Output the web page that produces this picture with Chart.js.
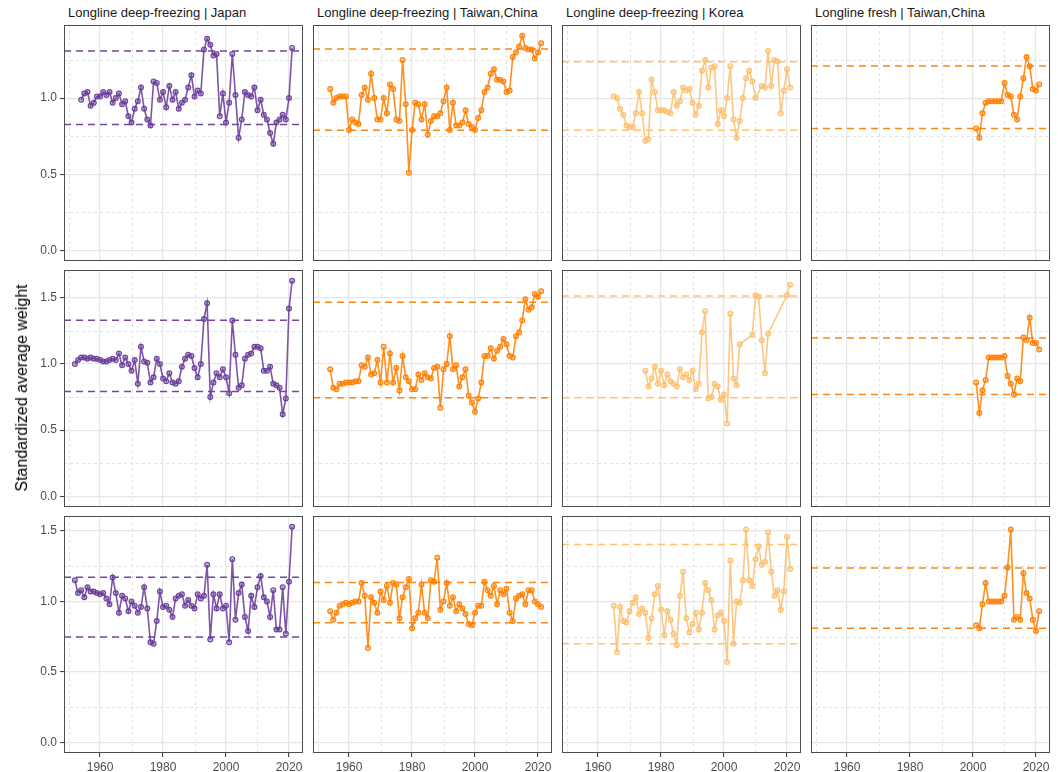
<!DOCTYPE html>
<html><head><meta charset="utf-8">
<script src="https://cdn.jsdelivr.net/npm/chart.js@4.4.1/dist/chart.umd.min.js"></script>
<style>
html,body{margin:0;padding:0;background:#fff;}
#wrap{position:relative;width:1058px;height:772px;overflow:hidden;font-family:'Liberation Sans',Arial,sans-serif;background:#fff;}
canvas{position:absolute;}
.strip{position:absolute;font-size:13px;color:#1a1a1a;white-space:nowrap;line-height:15px;}
#ytitle{position:absolute;font-size:16px;color:#000;white-space:nowrap;transform:translate(-50%,-50%) rotate(-90deg);}
</style></head><body><div id="wrap"></div>
<script>
// ---- categories / labels ----
const panelTitles = ["Longline deep-freezing | Japan","Longline deep-freezing | Taiwan,China","Longline deep-freezing | Korea","Longline fresh | Taiwan,China"];
const yAxisTitle = "Standardized average weight";
const xTicks = [1960,1980,2000,2020];
const xMinor = [1950,1970,1990,2010];
const yTicks = [0,0.5,1.0,1.5];
const yMinor = [0.25,0.75,1.25,1.75];
const xLimits = [1948.55,2024.45];
const yLimits = [[-0.0705,1.4805],[-0.0815,1.7115],[-0.0765,1.6065]];

// ---- first year of each series (rows 1..3) ----
const jpStart = [1954,1952,1952];
const twStart = [1954,1954,1954];
const krStart = [1965,1975,1965];
const frStart = [2001,2001,2001];

// ---- series values ----
const jpRow1 = [0.99,1.03,1.04,0.95,0.97,1.01,1.01,1.04,1.02,1.04,0.97,1.00,1.03,0.96,0.98,0.88,0.84,0.93,0.98,1.07,0.93,0.86,0.82,1.11,1.10,0.99,1.04,0.94,1.08,0.99,1.04,0.93,0.97,0.99,1.07,1.15,1.01,1.05,1.03,1.32,1.39,1.35,1.28,1.29,0.88,1.03,0.84,0.97,1.29,1.02,0.74,0.86,1.04,1.02,1.01,1.07,0.92,0.99,0.89,0.86,0.77,0.70,0.84,0.86,0.89,0.86,1.00,1.33];
const twRow1 = [1.06,0.97,1.00,1.01,1.01,1.01,0.79,0.86,0.84,0.83,1.02,1.07,0.99,1.16,1.00,0.86,0.86,1.00,0.90,1.09,1.06,0.86,0.85,1.25,0.96,0.51,0.79,0.97,0.96,0.86,0.96,0.76,0.85,0.88,0.88,0.90,0.98,1.07,0.79,0.97,0.82,0.82,0.84,0.92,0.83,0.81,0.79,0.87,0.92,1.04,1.07,1.16,1.19,1.12,1.12,1.11,1.04,1.05,1.27,1.30,1.34,1.41,1.33,1.32,1.32,1.26,1.30,1.36];
const krRow1 = [1.01,1.00,0.93,0.89,0.82,0.81,0.81,0.90,1.04,0.90,0.72,0.73,1.12,1.04,0.92,0.92,0.92,0.91,0.90,1.04,0.95,0.98,1.07,1.05,1.06,0.97,0.89,0.95,1.18,1.25,1.07,1.20,1.21,0.83,0.92,0.88,1.00,1.21,0.86,0.74,0.85,1.00,1.13,1.18,1.11,1.00,null,1.08,1.07,1.31,1.08,1.25,1.24,0.90,1.05,1.19,1.07];
const frRow1 = [0.80,0.74,0.90,0.97,0.98,0.98,0.98,0.98,0.98,1.10,1.02,1.01,0.89,0.86,1.01,1.13,1.27,1.21,1.06,1.05,1.09];

const jpRow2 = [1.00,1.03,1.05,1.05,1.04,1.05,1.04,1.04,1.03,1.02,1.02,1.03,1.04,1.03,1.08,0.99,1.05,1.00,0.95,1.03,0.85,1.13,1.02,1.01,0.86,0.90,1.04,1.00,0.89,0.87,0.93,0.86,0.85,0.87,0.98,1.04,1.07,1.06,0.97,0.90,1.00,1.34,1.46,0.75,0.86,0.93,0.90,0.96,0.90,0.78,1.33,1.07,0.82,0.84,1.04,1.07,1.08,1.13,1.13,1.12,0.95,0.95,0.98,0.85,0.84,0.82,0.62,0.74,1.42,1.63];
const twRow2 = [0.96,0.82,0.81,0.85,0.85,0.86,0.86,0.86,0.87,0.87,0.99,0.98,1.05,0.92,0.93,1.03,0.86,1.13,0.86,1.08,0.86,0.97,0.80,1.06,0.90,0.87,0.81,0.81,0.92,0.88,0.93,0.90,0.89,0.97,0.98,0.67,0.96,1.00,1.21,0.96,0.99,0.83,0.90,0.96,0.76,0.71,0.64,0.74,0.86,1.06,1.06,1.12,1.04,1.10,1.13,1.19,1.15,1.06,1.05,1.21,1.24,1.33,1.49,1.41,1.43,1.53,1.51,1.55];
const krRow2 = [0.95,0.83,0.89,0.98,0.85,0.95,0.84,0.92,0.87,0.85,0.83,0.96,0.90,0.92,0.88,0.95,0.81,0.85,1.24,1.40,0.74,0.75,0.85,0.83,0.73,0.77,0.55,1.38,0.89,0.84,1.15,null,null,null,1.22,1.52,1.51,1.18,0.93,1.23,null,null,null,null,null,1.52,1.60];
const frRow2 = [0.86,0.63,0.80,0.88,1.05,1.05,1.05,1.05,1.05,1.06,0.91,0.85,0.77,0.89,0.87,1.20,1.18,1.35,1.16,1.16,1.11];

const jpRow3 = [1.15,1.06,1.08,1.03,1.10,1.07,1.07,1.06,1.05,1.06,1.02,0.98,1.17,1.06,0.92,1.04,1.02,0.93,1.00,0.97,0.92,0.96,1.10,0.95,0.71,0.70,0.86,1.07,0.96,0.97,0.94,0.89,1.02,1.04,1.05,0.97,1.01,0.97,0.95,1.05,1.02,1.04,1.26,0.73,1.05,0.95,1.05,0.95,0.97,0.71,1.30,0.87,1.06,1.12,0.89,0.79,1.04,0.96,1.10,1.18,1.03,1.00,0.89,1.08,0.80,0.80,1.10,0.77,1.14,1.53];
const twRow3 = [0.93,0.87,0.92,0.97,0.98,0.99,0.98,0.99,1.00,1.00,1.13,1.04,0.67,1.03,0.99,0.92,1.07,1.01,1.11,0.99,1.13,1.12,0.88,1.03,1.10,1.16,0.81,0.88,0.92,1.12,0.92,0.88,1.15,1.14,1.31,0.94,1.00,1.13,0.97,1.03,0.93,0.98,0.95,0.91,0.84,0.83,0.92,0.97,0.97,1.14,1.08,1.04,1.11,0.98,1.08,1.05,1.09,0.92,0.86,1.02,1.04,1.05,0.98,1.08,1.08,1.00,0.98,0.96];
const krRow3 = [0.97,0.64,0.96,0.86,0.85,0.93,0.99,1.03,0.91,0.95,0.92,0.74,0.88,1.05,1.11,0.94,0.76,0.93,0.87,0.77,0.69,1.04,1.21,0.88,0.78,0.84,0.92,0.80,0.92,1.13,1.08,1.01,0.80,0.90,0.92,0.86,0.57,1.29,0.70,1.00,0.99,1.15,1.51,1.15,1.11,1.30,1.39,1.26,1.28,1.49,1.21,1.04,1.08,0.94,1.07,1.46,1.23];
const frRow3 = [0.83,0.81,0.98,1.13,1.00,1.00,1.00,1.00,1.00,1.04,1.24,1.51,0.87,0.89,0.87,1.20,1.06,1.02,0.87,0.79,0.93];

// ---- dashed reference levels [lower, upper] ----
const refRow1 = [[0.827,1.309],[0.789,1.322],[0.789,1.239],[0.800,1.211]];
const refRow2 = [[0.793,1.331],[0.745,1.467],[0.745,1.515],[0.770,1.197]];
const refRow3 = [[0.747,1.172],[0.849,1.134],[0.700,1.405],[0.809,1.238]];

const fleetColors = ["106,61,154","255,127,0","253,191,111","255,127,0"];

// ---- assembly ----
const rows = [
  [jpRow1,twRow1,krRow1,frRow1],
  [jpRow2,twRow2,krRow2,frRow2],
  [jpRow3,twRow3,krRow3,frRow3]
];
const starts = [jpStart,twStart,krStart,frStart];
const refs = [refRow1,refRow2,refRow3];

// layout
const colLeft = [64,313,562,811];
const panelW = 239;
const rowTop = [25,270,516];
const rowH = [236,237,237];
const yAxisW = 60, xAxisH = 24;

Chart.defaults.font.family = "'Liberation Sans', Arial, sans-serif";

const panelDeco = {
  id:'panelDeco',
  beforeDatasetsDraw(chart){
    const {ctx, chartArea:a, scales:{x,y}} = chart;
    ctx.save();
    ctx.beginPath(); ctx.rect(a.left,a.top,a.right-a.left,a.bottom-a.top); ctx.clip();
    ctx.strokeStyle='#e3e3e3'; ctx.lineWidth=1; ctx.setLineDash([3,3]);
    xMinor.forEach(v=>{
      const px=Math.round(x.getPixelForValue(v))+0.5;
      ctx.beginPath(); ctx.moveTo(px,a.top); ctx.lineTo(px,a.bottom); ctx.stroke();
    });
    yMinor.forEach(v=>{
      if(v<y.min||v>y.max) return;
      const py=Math.round(y.getPixelForValue(v))+0.5;
      ctx.beginPath(); ctx.moveTo(a.left,py); ctx.lineTo(a.right,py); ctx.stroke();
    });
    ctx.restore();
  },
  afterDraw(chart){
    const {ctx, chartArea:a} = chart;
    ctx.save(); ctx.strokeStyle='#4d4d4d'; ctx.lineWidth=1;
    ctx.strokeRect(Math.round(a.left)+0.5, Math.round(a.top)+0.5, Math.round(a.right-a.left)-1, Math.round(a.bottom-a.top)-1);
    ctx.restore();
  }
};

const wrap = document.getElementById('wrap');

for(let r=0;r<3;r++){
  for(let c=0;c<4;c++){
    const left = c===0, bottom = r===2;
    const L = left?yAxisW:0, B = bottom?xAxisH:0;
    const W = panelW + 2 + L, H = rowH[r] + 2 + B;
    const cv = document.createElement('canvas');
    cv.width=W; cv.height=H;
    cv.style.width=W+'px'; cv.style.height=H+'px';
    cv.style.left=(colLeft[c]-1-L)+'px'; cv.style.top=(rowTop[r]-1)+'px';
    wrap.appendChild(cv);
    const col = fleetColors[c];
    const vals = rows[r][c];
    const st = starts[c][r];
    const pts = vals.map((v,i)=>({x:st+i,y:v}));
    const [lo,hi] = refs[r][c];
    const refDs = v => ({data:[{x:xLimits[0],y:v},{x:xLimits[1],y:v}], borderColor:`rgba(${col},0.95)`, borderDash:[7,5], borderWidth:1.5, pointRadius:0, order:1});
    new Chart(cv,{
      type:'line',
      data:{datasets:[
        {data:pts, borderColor:`rgba(${col},0.88)`, backgroundColor:`rgba(${col},0.4)`,
         pointBackgroundColor:`rgba(${col},0.35)`, pointBorderColor:`rgba(${col},0.95)`,
         pointRadius:2.4, pointBorderWidth:1.2, borderWidth:1.6, spanGaps:true, tension:0, order:0},
        refDs(lo), refDs(hi)
      ]},
      options:{
        responsive:false, animation:false, devicePixelRatio:1,
        layout:{autoPadding:false, padding:{left:1,right:1,top:1,bottom:1}},
        plugins:{legend:{display:false}, tooltip:{enabled:false}},
        scales:{
          x:{type:'linear', min:xLimits[0], max:xLimits[1],
             afterBuildTicks:s=>{s.ticks = xTicks.map(v=>({value:v}));},
             afterFit:s=>{s.height=B; s.paddingLeft=0; s.paddingRight=0;},
             grid:{color:'#e6e6e6', lineWidth:1.2, drawTicks:bottom, tickLength:4, tickColor:'#333', tickWidth:1},
             border:{display:false},
             ticks:{display:bottom, callback:v=>String(v), color:'#4d4d4d', font:{size:12}, padding:3, maxRotation:0, autoSkip:false}},
          y:{type:'linear', min:yLimits[r][0], max:yLimits[r][1],
             afterBuildTicks:s=>{s.ticks = yTicks.filter(v=>v>=yLimits[r][0]&&v<=yLimits[r][1]).map(v=>({value:v}));},
             afterFit:s=>{s.width=L; s.paddingTop=0; s.paddingBottom=0;},
             grid:{color:'#e6e6e6', lineWidth:1.2, drawTicks:left, tickLength:4, tickColor:'#333', tickWidth:1},
             border:{display:false},
             ticks:{display:left, callback:v=>Number(v).toFixed(1), color:'#4d4d4d', font:{size:12}, padding:3, autoSkip:false}}
        }
      },
      plugins:[panelDeco]
    });
  }
}

panelTitles.forEach((t,c)=>{
  const d=document.createElement('div');
  d.className='strip'; d.textContent=t;
  d.style.left=(colLeft[c]+4)+'px'; d.style.top='5px';
  wrap.appendChild(d);
});
const yt=document.createElement('div');
yt.id='ytitle'; yt.textContent=yAxisTitle;
yt.style.left='22px'; yt.style.top='388px';
wrap.appendChild(yt);
</script></body></html>
